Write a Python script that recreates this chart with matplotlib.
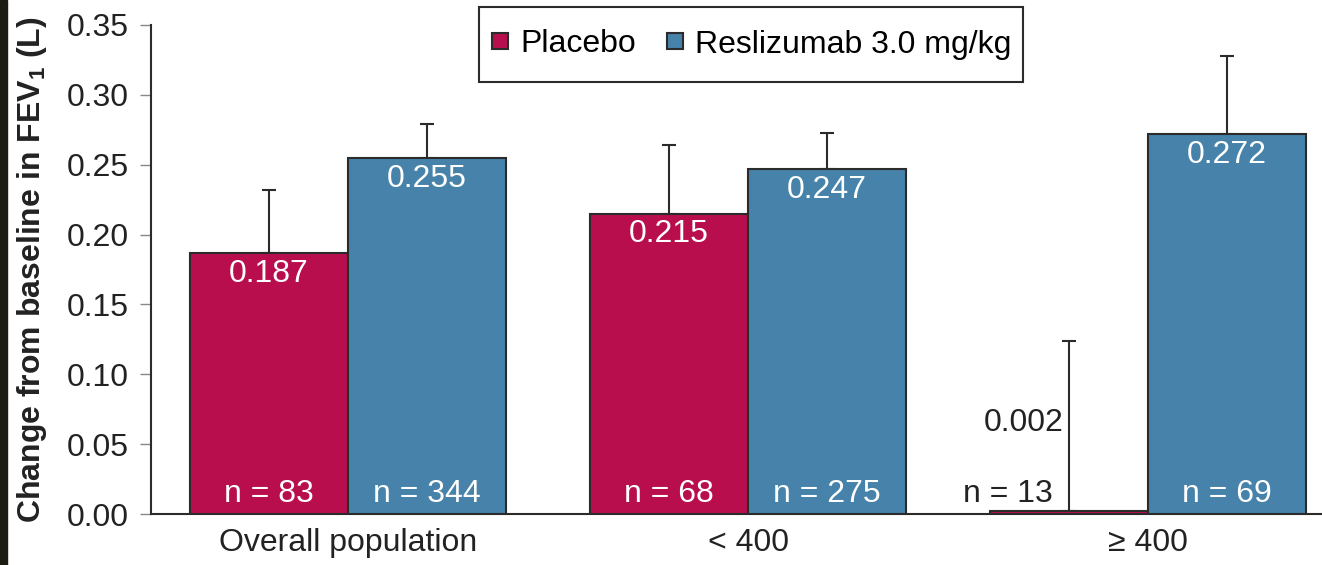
import numpy as np
import matplotlib
matplotlib.use('Agg')
import matplotlib.pyplot as plt
from matplotlib.patches import Rectangle

plt.rcParams['font.family'] = ['Liberation Sans', 'DejaVu Sans']
plt.rcParams['mathtext.fontset'] = 'custom'
plt.rcParams['mathtext.rm'] = 'Liberation Sans'
plt.rcParams['mathtext.bf'] = 'Liberation Sans:bold'

# データ
groups = ['Overall population', '< 400', '\u2265 400']
placebo = [0.187, 0.215, 0.002]
placebo_err = [0.045, 0.049, 0.122]
placebo_n = [83, 68, 13]
resli = [0.255, 0.247, 0.272]
resli_err = [0.024, 0.026, 0.056]
resli_n = [344, 275, 69]

c_placebo = '#B90E4E'
c_resli = '#4682AA'
edge = '#2b2b2b'
fs = 23

fig = plt.figure(figsize=(13.22, 5.65), dpi=100)
ax = fig.add_axes([151 / 1322, 51 / 565, 1 - 151 / 1322, 489 / 565])

# 左端の黒い帯
fig.patches.append(Rectangle((0, 0), 7 / 1322, 1, transform=fig.transFigure,
                             color='#1c1c12', zorder=0))

x = np.arange(len(groups))
w = 0.395
xp = x - w / 2
xr = x + w / 2

ax.bar(xp, placebo, w, color=c_placebo, edgecolor=edge, linewidth=1.5, zorder=3)
ax.bar(xr, resli, w, color=c_resli, edgecolor=edge, linewidth=1.5, zorder=3)
ax.errorbar(xp, placebo, yerr=[np.zeros(3), placebo_err], fmt='none', ecolor=edge,
            elinewidth=1.5, capsize=5, capthick=1.5, zorder=2)
ax.errorbar(xr, resli, yerr=[np.zeros(3), resli_err], fmt='none', ecolor=edge,
            elinewidth=1.5, capsize=5, capthick=1.5, zorder=2)

# 値ラベル
for i in range(len(groups)):
    if placebo[i] > 0.05:
        ax.annotate(f'{placebo[i]:.3f}', (xp[i], placebo[i]), xytext=(0, -15),
                    textcoords='offset points', ha='center', va='center',
                    color='white', fontsize=fs, zorder=4)
        ax.annotate(f'n = {placebo_n[i]}', (xp[i], 0), xytext=(0, 14.5),
                    textcoords='offset points', ha='center', va='center',
                    color='white', fontsize=fs, zorder=4)
    else:
        ax.annotate(f'{placebo[i]:.3f}', (xp[i], 0.065), xytext=(-4, 0),
                    textcoords='offset points', ha='right', va='center',
                    color='#222222', fontsize=fs, zorder=4)
        ax.annotate(f'n = {placebo_n[i]}', (xp[i], 0), xytext=(-12, 14.5),
                    textcoords='offset points', ha='right', va='center',
                    color='#222222', fontsize=fs, zorder=4)
    ax.annotate(f'{resli[i]:.3f}', (xr[i], resli[i]), xytext=(0, -15),
                textcoords='offset points', ha='center', va='center',
                color='white', fontsize=fs, zorder=4)
    ax.annotate(f'n = {resli_n[i]}', (xr[i], 0), xytext=(0, 14.5),
                textcoords='offset points', ha='center', va='center',
                color='white', fontsize=fs, zorder=4)

ax.set_xlim(-0.4925, 2.435)
ax.set_ylim(0, 0.35)
ticks = np.arange(0, 0.351, 0.05)
ax.set_yticks(ticks)
ax.set_yticklabels([f'{v:.2f}' for v in ticks], fontsize=fs, color='#222222')
ax.set_xticks(x)
ax.set_xticklabels(groups, fontsize=fs, color='#222222')
ax.tick_params(axis='x', length=0, pad=10)
ax.tick_params(axis='y', length=8, width=1, color='#888888', pad=8)
ax.spines['top'].set_visible(False)
ax.spines['right'].set_visible(False)
ax.spines['left'].set_color(edge)
ax.spines['bottom'].set_color(edge)
ax.spines['left'].set_linewidth(1.5)
ax.spines['bottom'].set_linewidth(1.5)
ax.set_ylabel(r'Change from baseline in FEV$_{\mathbf{1}}$ (L)', fontsize=fs,
              fontweight='bold', color='#222222', labelpad=13)

# 凡例(枠は別に描く)
h1 = plt.Line2D([], [], marker='s', linestyle='none', markersize=12,
                markerfacecolor=c_placebo, markeredgecolor=edge, markeredgewidth=1.5)
h2 = plt.Line2D([], [], marker='s', linestyle='none', markersize=12,
                markerfacecolor=c_resli, markeredgecolor=edge, markeredgewidth=1.5)
ax.legend([h1, h2], ['Placebo', 'Reslizumab 3.0 mg/kg'], ncol=2, loc='center',
          bbox_to_anchor=(751 / 1322, 1 - 44.5 / 565), bbox_transform=fig.transFigure,
          fontsize=fs, frameon=False, handlelength=0.6, handletextpad=0.35,
          columnspacing=0.9, borderpad=0.3)
fig.patches.append(Rectangle((479 / 1322, 1 - 82 / 565), 544 / 1322, 75 / 565,
                             transform=fig.transFigure, facecolor='white',
                             edgecolor=edge, linewidth=1.5, zorder=5))
ax.set_zorder(6)
ax.patch.set_alpha(0)

fig.savefig('out.png', dpi=100)
